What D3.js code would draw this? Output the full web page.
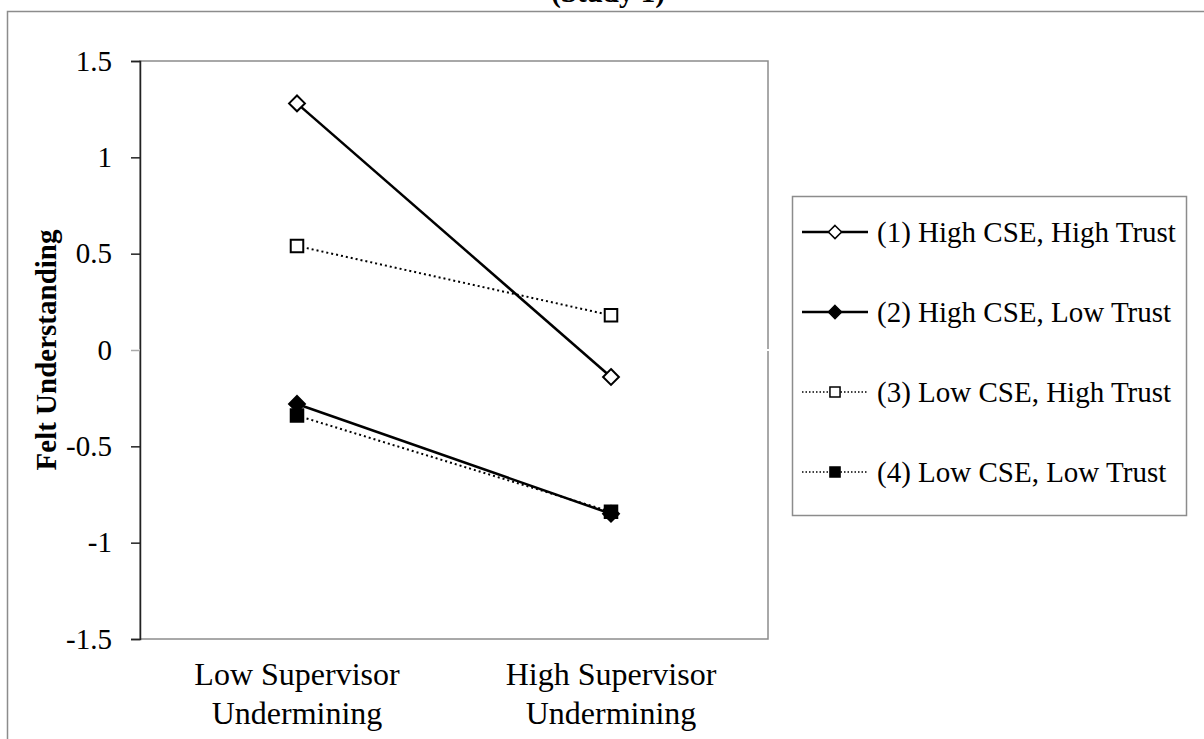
<!DOCTYPE html>
<html>
  <head>
    <meta charset="utf-8">
    <title>Felt Understanding (Study 1)</title>
    <script src="https://d3js.org/d3.v7.min.js"></script>
    <style>
      body { margin: 0; background: #fff; }
      text { font-family: "Liberation Serif", "Times New Roman", serif; fill: #000; }
    </style>
  </head>
  <body>
    <svg id="chart" width="1204" height="739"></svg>
    <script>
// chart data
var categories = ["Low Supervisor\nUndermining", "High Supervisor\nUndermining"];
var seriesNames = [
  "(1) High CSE, High Trust",
  "(2) High CSE, Low Trust",
  "(3) Low CSE, High Trust",
  "(4) Low CSE, Low Trust"
];
var s1 = [1.28, -0.14];
var s2 = [-0.28, -0.85];
var s3 = [0.54, 0.18];
var s4 = [-0.34, -0.84];
var yTicks = [-1.5, -1, -0.5, 0, 0.5, 1, 1.5];

// look of each series: line dash + marker
var styles = [
  {dash: null, width: 2.5, shape: d3.symbolDiamond2, fill: "#fff"},
  {dash: null, width: 2.5, shape: d3.symbolDiamond2, fill: "#000"},
  {dash: "2,3", width: 2, shape: d3.symbolSquare2, fill: "#fff"},
  {dash: "2,3", width: 2, shape: d3.symbolSquare2, fill: "#000"}
];
var allSeries = [s1, s2, s3, s4];

function markSize(shape, legend) {
  if (shape === d3.symbolSquare2) return legend ? 130 : 200;
  return legend ? 110 : 160;
}

var svg = d3.select("#chart");
// note: "top" is taken by window.top, so use other names
var plotL = 140, plotR = 768, plotT = 61, plotB = 639;

var x = d3.scaleBand().domain(categories).range([plotL, plotR]);
var y = d3.scaleLinear().domain([-1.5, 1.5]).range([plotB, plotT]);

// outer frame (partly cropped)
svg.append("path")
  .attr("d", "M7.5,739 V11.5 H1204")
  .attr("fill", "none")
  .attr("stroke", "#8c8c8c")
  .attr("stroke-width", 1.5);

// title, cut off at the top
svg.append("text")
  .attr("x", 608).attr("y", 2)
  .attr("text-anchor", "middle")
  .style("font-size", "29px").style("font-weight", "bold")
  .text("(Study 1)");

// plot border
svg.append("rect")
  .attr("x", plotL).attr("y", plotT)
  .attr("width", plotR - plotL).attr("height", plotB - plotT)
  .attr("fill", "none")
  .attr("stroke", "#8c8c8c")
  .attr("stroke-width", 1.5);

// horizontal axis at zero is white in the original
svg.append("line")
  .attr("x1", plotL - 8).attr("x2", plotR + 1)
  .attr("y1", y(0)).attr("y2", y(0))
  .attr("stroke", "#fff").attr("stroke-width", 2);

// y axis
var yAxis = svg.append("g")
  .attr("transform", "translate(" + plotL + ",0)")
  .call(d3.axisLeft(y).tickValues(yTicks).tickSize(9).tickPadding(19)
    .tickFormat(function(d) { return String(d); }));
yAxis.select(".domain").attr("stroke", "#222").attr("stroke-width", 1.5);
yAxis.selectAll(".tick line").attr("stroke", "#222").attr("stroke-width", 1.5);
yAxis.selectAll(".tick text")
  .style("font-size", "29px")
  .style("font-family", "Liberation Serif")
  .attr("fill", "#000");
// the zero tick is washed out by the white axis line
yAxis.selectAll(".tick").filter(function(d) { return d === 0; })
  .select("line").attr("stroke", "#aaa");

// y axis title
svg.append("text")
  .attr("transform", "translate(56," + y(0) + ") rotate(-90)")
  .attr("text-anchor", "middle")
  .style("font-size", "29px").style("font-weight", "bold")
  .text("Felt Understanding");

// category labels (two lines each)
categories.forEach(function(c) {
  var t = svg.append("text")
    .attr("text-anchor", "middle")
    .style("font-size", "32px");
  c.split("\n").forEach(function(line, i) {
    t.append("tspan")
      .attr("x", x(c) + x.bandwidth() / 2)
      .attr("y", 685 + i * 39)
      .text(line);
  });
});

// lines and markers
var line = d3.line()
  .x(function(d, i) { return x(categories[i]) + x.bandwidth() / 2; })
  .y(function(d) { return y(d); });

var order = [1, 3, 2, 0];
order.forEach(function(k) {
  var st = styles[k];
  var g = svg.append("g");
  g.append("path")
    .datum(allSeries[k])
    .attr("d", line)
    .attr("fill", "none")
    .attr("stroke", "#000")
    .attr("stroke-width", st.width)
    .attr("stroke-dasharray", st.dash);
  g.selectAll("path.mark")
    .data(allSeries[k])
    .enter().append("path")
    .attr("class", "mark")
    .attr("transform", function(d, i) {
      return "translate(" + (x(categories[i]) + x.bandwidth() / 2) + "," + y(d) + ")";
    })
    .attr("d", d3.symbol().type(st.shape).size(markSize(st.shape, false)))
    .attr("fill", st.fill)
    .attr("stroke", "#000")
    .attr("stroke-width", 2);
});

// legend
var lg = svg.append("g");
lg.append("rect")
  .attr("x", 792.5).attr("y", 196.5)
  .attr("width", 394).attr("height", 319)
  .attr("fill", "#fff")
  .attr("stroke", "#8c8c8c")
  .attr("stroke-width", 1.5);

seriesNames.forEach(function(name, k) {
  var st = styles[k];
  var cy = 232 + k * 80;
  lg.append("line")
    .attr("x1", 802).attr("x2", 868)
    .attr("y1", cy).attr("y2", cy)
    .attr("stroke", "#000")
    .attr("stroke-width", st.dash ? 1.5 : 2.5)
    .attr("stroke-dasharray", st.dash ? "1.5,2" : null);
  lg.append("path")
    .attr("transform", "translate(835," + cy + ")")
    .attr("d", d3.symbol().type(st.shape).size(markSize(st.shape, true)))
    .attr("fill", st.fill)
    .attr("stroke", "#000")
    .attr("stroke-width", 1.5);
  lg.append("text")
    .attr("x", 877).attr("y", cy + 10)
    .style("font-size", "29px")
    .text(name);
});
    </script>
  </body>
</html>
